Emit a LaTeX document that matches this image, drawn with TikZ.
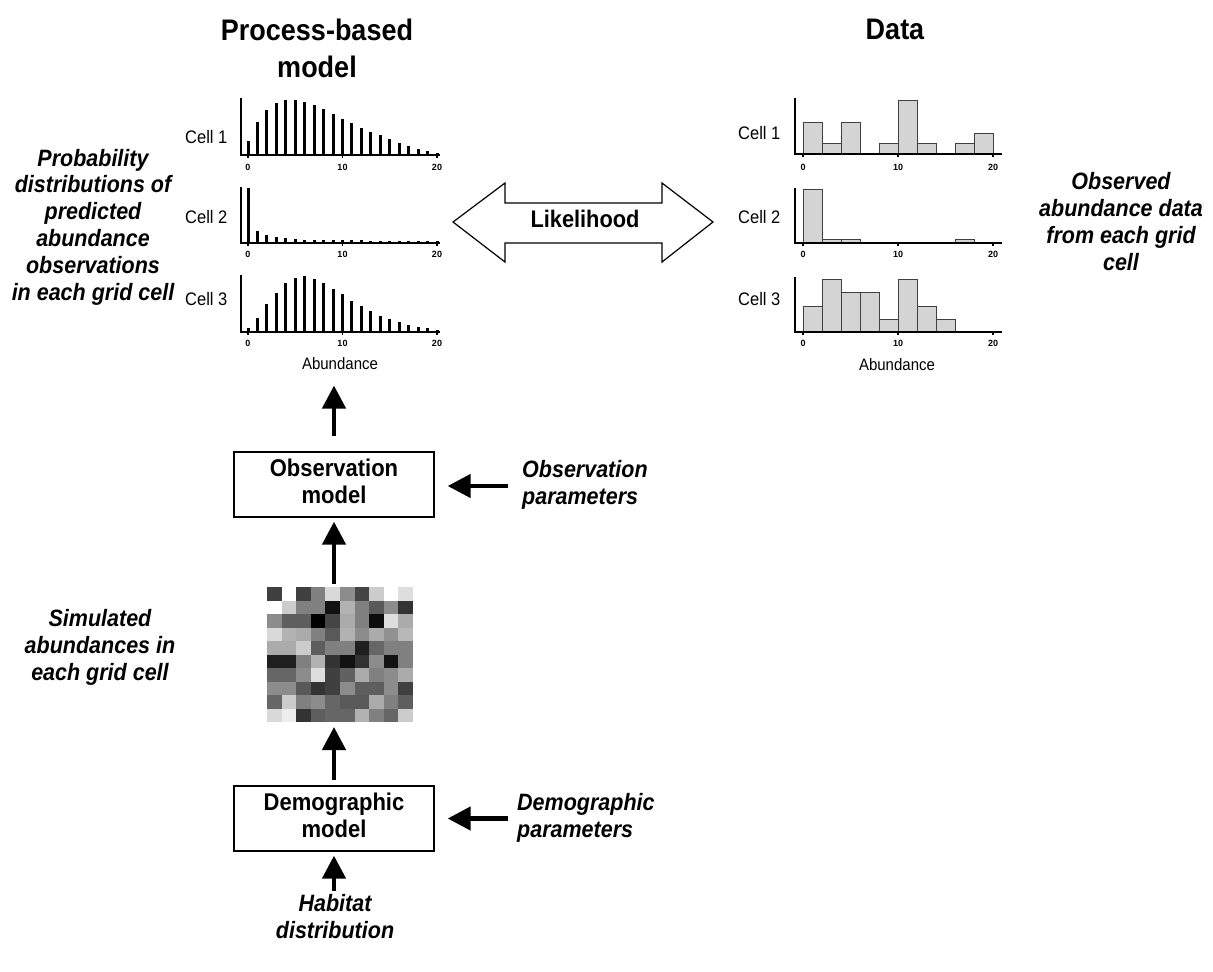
\documentclass[tikz,border=0pt]{standalone}
\usepackage{fontspec}
\setmainfont{Liberation Sans}
\usepackage{graphicx}
\usetikzlibrary{arrows.meta}
\newcommand\stk[2][c]{\scalebox{1}[1.1]{\begin{tabular}{@{}#1@{}}#2\end{tabular}}}
\tikzset{
  ttl/.style={font=\bfseries\fontsize{27}{34}\selectfont, inner sep=0pt},
  lab/.style={font=\bfseries\itshape\fontsize{21.5}{24.5}\selectfont, inner sep=0pt},
  boxtxt/.style={draw, line width=1.3pt, minimum width=200pt, minimum height=65pt, inner sep=0pt, font=\bfseries\fontsize{22}{25}\selectfont},
  celllab/.style={font=\fontsize{16.5}{18}\selectfont, inner sep=0pt, anchor=west},
  ticklab/.style={font=\bfseries\fontsize{9}{10}\selectfont, inner sep=0pt},
  axlab/.style={font=\fontsize{15}{17}\selectfont, inner sep=0pt},
  bigarrow/.style={line width=4.5pt, -{Triangle[length=23pt,width=23pt]}},
  ax/.style={line width=1.5pt},
  vbar/.style={line width=3pt},
  hbar/.style={fill=black!17, draw=black!75, line width=1pt},
}
\begin{document}
\begin{tikzpicture}[x=1pt,y=-1pt]
\useasboundingbox (0,0) rectangle (1213,972);
\fill[white] (0,0) rectangle (1213,972);

% titles
\node[ttl] (t1) at (317,51.5) {\stk{Process-based\\model}};
\node[ttl] (t2) at (895,32) {\stk{Data}};

% side labels
\node[lab] (lprob) at (93,228) {\stk{Probability\\distributions of\\predicted\\abundance\\observations\\in each grid cell}};
\node[lab] (lobs) at (1121,224.5) {\stk{Observed\\abundance data\\from each grid\\cell}};
\node[lab] (lsim) at (100,648) {\stk{Simulated\\abundances in\\each grid cell}};
\node[lab, anchor=west] (obsp) at (522,486) {\stk[l]{Observation\\parameters}};
\node[lab, anchor=west] (demp) at (517,818.5) {\stk[l]{Demographic\\parameters}};
\node[lab] (hab) at (335,920) {\stk{Habitat\\distribution}};

% left plots: axes
\foreach \top/\base/\tl in {98/155/167, 187/243/254, 275/332/343} {
  \draw[ax] (241,\top) -- (241,\base) -- (440,\base);
  \foreach \v in {0,10,20} {
    \draw[ax] ({248+9.45*\v},\base) -- ++(0,3);
    \node[ticklab] (lt\v-\base) at ({248+9.45*\v},\tl) {\v};
  }
}
\foreach \h [count=\i from 0] in {14.3,33.3,45,51.7,54.7,54.7,53,49.7,45.7,41,36.3,31.7,27.3,23.3,19.7,15.7,12.3,9,6.3,3.7,1.7}
  \draw[vbar] ({248+9.45*\i},155) -- ++(0,-\h);
\foreach \h [count=\i from 0] in {55,11.7,7.7,5.7,4.7,4,3.5,3.3,3,3,2.8,2.7,2.6,2.5,2.5,2.4,2.3,2.3,2.2,2.2,2.2}
  \draw[vbar] ({248+9.45*\i},243) -- ++(0,-\h);
\foreach \h [count=\i from 0] in {4.3,14.3,27.7,39.3,49,54.3,55.7,53.3,49.3,43.3,37.7,31.3,26,20.7,16.3,12.7,10,7.3,5.3,3.7,1.7}
  \draw[vbar] ({248+9.45*\i},332) -- ++(0,-\h);
\node[celllab] (lc1) at (185,140) {\stk{Cell 1}};
\node[celllab] (lc2) at (185,220) {\stk{Cell 2}};
\node[celllab] (lc3) at (185,302) {\stk{Cell 3}};
\node[axlab] (absL) at (340,366) {\stk{Abundance}};

% right plots: bars
\foreach \h [count=\i from 0] in {32,11,32,0,11,53.7,11,0,11,21}
  \draw[hbar] ({803+19*\i},154) rectangle ++(19,-\h);
\foreach \h [count=\i from 0] in {53.3,3.3,3.3,0,0,0,0,0,3.3,0}
  \draw[hbar] ({803+19*\i},243) rectangle ++(19,-\h);
\foreach \h [count=\i from 0] in {26,52.7,39.3,39.3,12.7,52.7,26,12.7,0,0}
  \draw[hbar] ({803+19*\i},332) rectangle ++(19,-\h);
\foreach \top/\base/\tl in {98/154/167, 188/243/254, 277/332/343} {
  \draw[ax] (795,\top) -- (795,\base) -- (1002,\base);
  \foreach \v in {0,10,20} {
    \draw[ax] ({803+9.5*\v},\base) -- ++(0,3);
    \node[ticklab] (rt\v-\base) at ({803+9.5*\v},\tl) {\v};
  }
}
\node[celllab] (rc1) at (738,136) {\stk{Cell 1}};
\node[celllab] (rc2) at (738,220) {\stk{Cell 2}};
\node[celllab] (rc3) at (738,302) {\stk{Cell 3}};
\node[axlab] (absR) at (897,367) {\stk{Abundance}};

% likelihood double arrow
\draw[line width=1.2pt, fill=white] (453,222) -- (505,183) -- (505,203) -- (662,203) -- (662,183) -- (713,222) -- (662,262) -- (662,243) -- (505,243) -- (505,262) -- cycle;
\node[font=\bfseries\fontsize{21.8}{24}\selectfont, inner sep=0pt] (lik) at (585,222) {\stk{Likelihood}};

% boxes
\node[boxtxt] (obs) at (334,484.5) {\stk{Observation\\model}};
\node[boxtxt] (demo) at (334,818.5) {\stk{Demographic\\model}};

% grid
\node[minimum width=146pt, minimum height=135pt, inner sep=0pt, outer sep=0pt] (grid) at (340,654.5) {};
\foreach \row [count=\r from 0] in {
  {75,0,75,50,15,45,73,20,0,13},
  {0,20,50,50,93,30,50,65,45,80},
  {45,63,63,100,73,33,50,95,13,33},
  {15,30,33,50,65,30,45,33,43,28},
  {33,33,20,63,50,50,88,60,50,50},
  {88,88,50,30,80,93,80,45,93,50},
  {60,60,45,13,75,62,33,50,45,33},
  {45,45,65,80,75,45,63,63,45,75},
  {60,20,50,45,60,65,65,33,50,63},
  {15,7,80,63,60,60,30,50,60,20}} {
  \foreach \g [count=\c from 0] in \row
    \fill[black!\g] ({267+14.6*\c},{587+13.5*\r}) rectangle ++(14.7,13.6);
}

% arrows
\draw[bigarrow, shorten <=15pt, shorten >=10pt] (obs.north) -- (obs.north |- absL.south);
\draw[bigarrow, shorten <=3pt, shorten >=4pt] (grid.north -| obs.north) -- (obs.south);
\draw[bigarrow, shorten <=5pt, shorten >=5pt] (demo.north) -- (demo.north |- grid.south);
\draw[bigarrow, shorten <=2pt, shorten >=4pt] (hab.north -| demo.south) -- (demo.south);
\draw[bigarrow, shorten <=14pt, shorten >=13pt] (obsp.west) -- (obsp.west -| obs.east);
\draw[bigarrow, shorten <=9pt, shorten >=13pt] (demp.west) -- (demp.west -| demo.east);
\end{tikzpicture}
\end{document}
